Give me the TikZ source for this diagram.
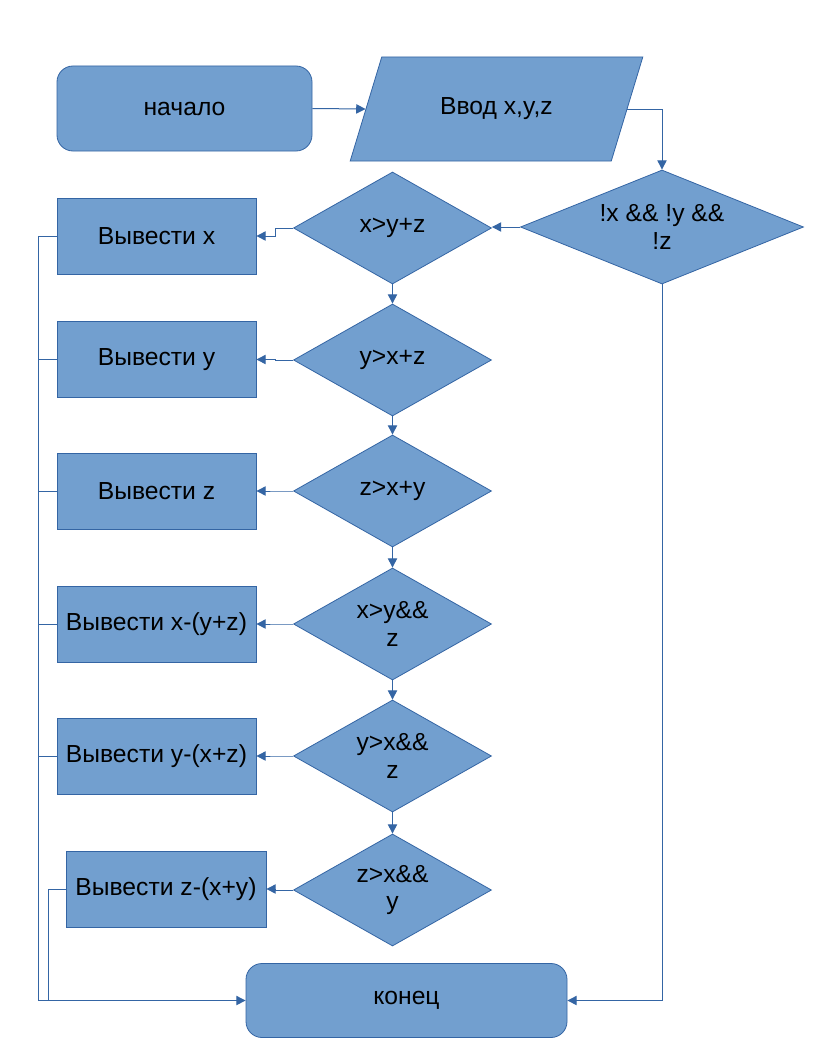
\documentclass[tikz,border=0pt]{standalone}
\usepackage{fontspec}
\setmainfont{Liberation Sans}
\usetikzlibrary{shapes.geometric,arrows.meta}
\definecolor{boxfill}{HTML}{729FCF}
\definecolor{boxline}{HTML}{3465A4}
\begin{document}
\begin{tikzpicture}[x=0.75pt,y=-0.75pt,
  every node/.style={font=\fontsize{18.5pt}{20.5pt}\selectfont, text=black},
  base/.style={fill=boxfill, draw=boxline, line width=0.6pt, inner sep=0pt, align=center},
  term/.style={base, rectangle, rounded corners=12pt},
  outbox/.style={base, rectangle, minimum width=149.25pt, minimum height=57pt},
  cond/.style={base, diamond, aspect=2.2, minimum width=148.5pt, minimum height=84pt},
  io/.style={base, trapezium, trapezium left angle=55, trapezium right angle=125, trapezium stretches=true},
  arr/.style={draw=boxline, line width=0.75pt, -{Triangle[length=7pt,width=7pt]}},
  ln/.style={draw=boxline, line width=0.75pt}]
\fill[white] (0,0) rectangle (816,1056);
\useasboundingbox (0,0) rectangle (816,1056);

\node[term, minimum width=191.25pt, minimum height=63.75pt] (start) at (184.5,108.5) {начало};
\node[io, minimum width=219.75pt, minimum height=78pt] (inp) at (496.5,109) {Ввод x,y,z};
\node[cond, aspect=2.6, minimum width=212.25pt, minimum height=85.5pt] (d0) at (662,227) {!x \&\& !y \&\&\\!z};

\node[cond] (d1) at (392.5,228) {x>y+z};
\node[cond] (d2) at (392.5,360) {y>x+z};
\node[cond] (d3) at (392.5,491) {z>x+y};
\node[cond] (d4) at (392.5,624) {x>y\&\&\\z};
\node[cond] (d5) at (392.5,756) {y>x\&\&\\z};
\node[cond] (d6) at (392.5,890) {z>x\&\&\\y};

\node[outbox] (b1) at (156.5,236) {Вывести x};
\node[outbox] (b2) at (156.5,359.5) {Вывести y};
\node[outbox] (b3) at (156.5,491) {Вывести z};
\node[outbox] (b4) at (156.5,624) {Вывести x-(y+z)};
\node[outbox] (b5) at (156.5,756) {Вывести y-(x+z)};
\node[outbox, minimum width=150pt] (b6) at (166,889) {Вывести z-(x+y)};

\node[term, minimum width=240.75pt, minimum height=55.5pt] (end) at (406.5,1000.5) {конец};

\coordinate (busb) at (38,1000.5);
\coordinate (busc) at (48,1000.5);

\draw[arr] (start.east) -- (inp.west);
\draw[arr] (inp.east) -| (d0.north);
\draw[arr] (d0.west) -- (d0.west -| d1.east);
\draw[arr] (d0.south) |- (end.east);

\foreach \a/\b in {d1/d2,d2/d3,d3/d4,d4/d5,d5/d6}{
  \draw[arr] (\a.south) -- (\b.north);
}
\foreach \d/\b in {d1/b1,d2/b2,d3/b3,d4/b4,d5/b5,d6/b6}{
  \draw[arr] (\d.west) -- ([xshift=-13.5pt]\d.west) |- (\b.east);
}
\foreach \b in {b1,b2,b3,b4,b5}{
  \draw[ln] (\b.west) -| (busb);
}
\draw[ln] (b6.west) -| (busc);
\draw[arr] (busb) -- (end.west);
\end{tikzpicture}
\end{document}
